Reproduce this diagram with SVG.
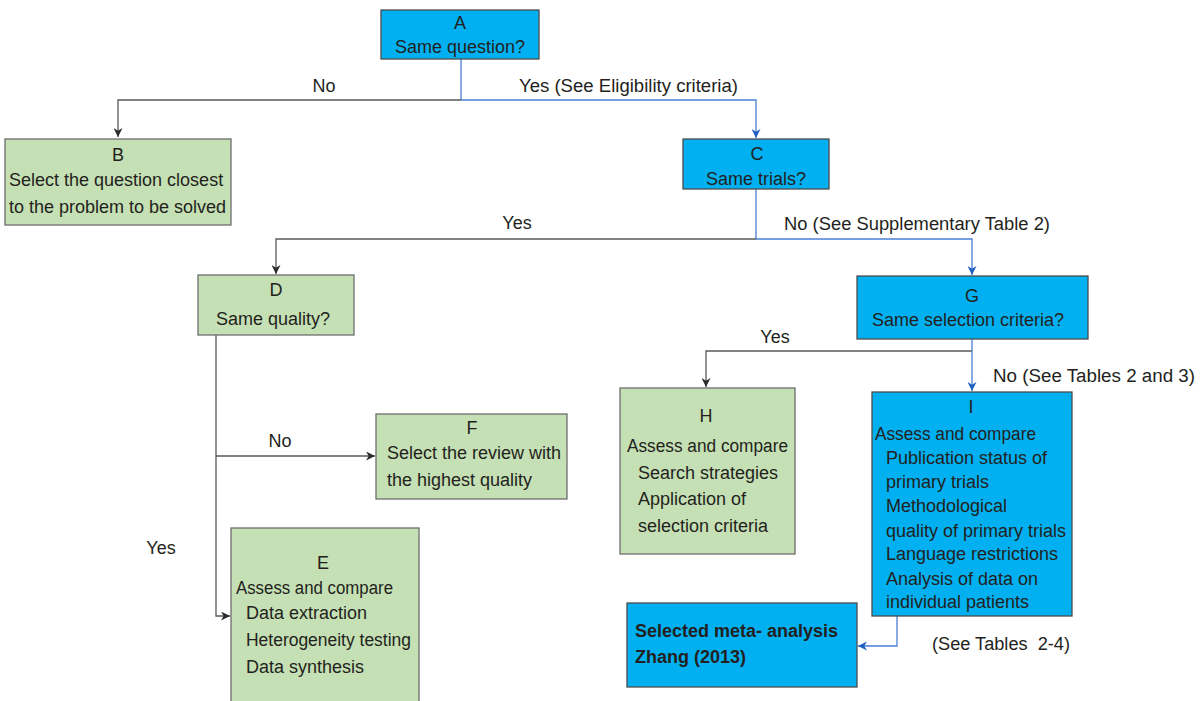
<svg xmlns="http://www.w3.org/2000/svg" width="1201" height="701" viewBox="0 0 1201 701">
<style>
text{font-family:"Liberation Sans",Arial,sans-serif;font-size:18px;fill:#231f20;white-space:pre}
.c{text-anchor:middle}
.b{font-weight:bold}
.blue{fill:#00b0f0;stroke:#4d4d4d;stroke-width:1.3}
.green{fill:#c5e0b4;stroke:#6d6d6d;stroke-width:1.3}
.lg{fill:none;stroke:#595959;stroke-width:1.3}
.lb{fill:none;stroke:#4a7fd6;stroke-width:1.3}
</style>
<defs>
<marker id="ag" viewBox="0 0 10 10" refX="10" refY="5" markerWidth="9" markerHeight="9" markerUnits="userSpaceOnUse" orient="auto"><path d="M0,0 L10,5 L0,10 L3,5 z" fill="#2b2b2b"/></marker>
<marker id="ab" viewBox="0 0 10 10" refX="10" refY="5" markerWidth="9" markerHeight="9" markerUnits="userSpaceOnUse" orient="auto"><path d="M0,0 L10,5 L0,10 L3,5 z" fill="#1f5fc0"/></marker>
</defs>
<rect width="1201" height="701" fill="#ffffff"/>
<g id="connectors">
<path class="lb" d="M461,59 V100"/>
<path class="lg" d="M461,100 H118 V137" marker-end="url(#ag)"/>
<path class="lb" d="M461,100 H756 V138" marker-end="url(#ab)"/>
<path class="lb" d="M756,189 V239"/>
<path class="lg" d="M756,239 H276 V274" marker-end="url(#ag)"/>
<path class="lb" d="M756,239 H972 V275" marker-end="url(#ab)"/>
<path class="lb" d="M972,339 V391" marker-end="url(#ab)"/>
<path class="lg" d="M972,351 H706 V387" marker-end="url(#ag)"/>
<path class="lg" d="M216,335 V616 H230" marker-end="url(#ag)"/>
<path class="lg" d="M216,456 H375" marker-end="url(#ag)"/>
<path class="lb" d="M897,616 V646 H858" marker-end="url(#ab)"/>
<text x="324" y="92" class="c">No</text>
<text x="519" y="92" textLength="219" lengthAdjust="spacingAndGlyphs">Yes (See Eligibility criteria)</text>
<text x="517" y="229" class="c">Yes</text>
<text x="784" y="230" textLength="266" lengthAdjust="spacingAndGlyphs">No (See Supplementary Table 2)</text>
<text x="775" y="343" class="c">Yes</text>
<text x="993" y="382" textLength="202" lengthAdjust="spacingAndGlyphs">No (See Tables 2 and 3)</text>
<text x="280" y="447" class="c">No</text>
<text x="161" y="554" class="c">Yes</text>
<text x="932" y="650" textLength="138" lengthAdjust="spacingAndGlyphs">(See Tables  2-4)</text>
</g>
<g id="A">
<rect class="blue" x="381" y="10" width="158" height="49"/>
<text x="460" y="29" class="c">A</text>
<text x="460" y="53" class="c">Same question?</text>
</g>
<g id="B">
<rect class="green" x="5" y="139" width="226" height="86"/>
<text x="118" y="161" class="c">B</text>
<text x="9" y="186">Select the question closest</text>
<text x="9" y="213">to the problem to be solved</text>
</g>
<g id="C">
<rect class="blue" x="683" y="139" width="146" height="50"/>
<text x="757" y="160" class="c">C</text>
<text x="756" y="185" class="c">Same trials?</text>
</g>
<g id="D">
<rect class="green" x="198" y="275" width="156" height="60"/>
<text x="276" y="296" class="c">D</text>
<text x="273" y="325" class="c">Same quality?</text>
</g>
<g id="G">
<rect class="blue" x="857" y="276" width="231" height="63"/>
<text x="972" y="302" class="c">G</text>
<text x="968" y="326" class="c">Same selection criteria?</text>
</g>
<g id="F">
<rect class="green" x="376" y="414" width="191" height="85"/>
<text x="472" y="434" class="c">F</text>
<text x="387" y="459">Select the review with</text>
<text x="387" y="486">the highest quality</text>
</g>
<g id="E">
<rect class="green" x="231" y="528" width="188" height="185"/>
<text x="323" y="569" class="c">E</text>
<text x="236" y="594" textLength="157" lengthAdjust="spacingAndGlyphs">Assess and compare</text>
<text x="246" y="619">Data extraction</text>
<text x="246" y="646" textLength="165" lengthAdjust="spacingAndGlyphs">Heterogeneity testing</text>
<text x="246" y="673">Data synthesis</text>
</g>
<g id="H">
<rect class="green" x="620" y="388" width="175" height="166"/>
<text x="706" y="422" class="c">H</text>
<text x="627" y="452" textLength="161" lengthAdjust="spacingAndGlyphs">Assess and compare</text>
<text x="638" y="479">Search strategies</text>
<text x="638" y="505">Application of</text>
<text x="638" y="532">selection criteria</text>
</g>
<g id="I">
<rect class="blue" x="872" y="392" width="200" height="224"/>
<text x="971" y="413" class="c">I</text>
<text x="875" y="440" textLength="161" lengthAdjust="spacingAndGlyphs">Assess and compare</text>
<text x="886" y="464">Publication status of</text>
<text x="886" y="488">primary trials</text>
<text x="886" y="512">Methodological</text>
<text x="886" y="537">quality of primary trials</text>
<text x="886" y="560">Language restrictions</text>
<text x="886" y="585">Analysis of data on</text>
<text x="886" y="608">individual patients</text>
</g>
<g id="Selected">
<rect class="blue" x="627" y="603" width="230" height="84"/>
<text x="635" y="637" class="b">Selected meta- analysis</text>
<text x="635" y="663" class="b">Zhang (2013)</text>
</g>
</svg>
